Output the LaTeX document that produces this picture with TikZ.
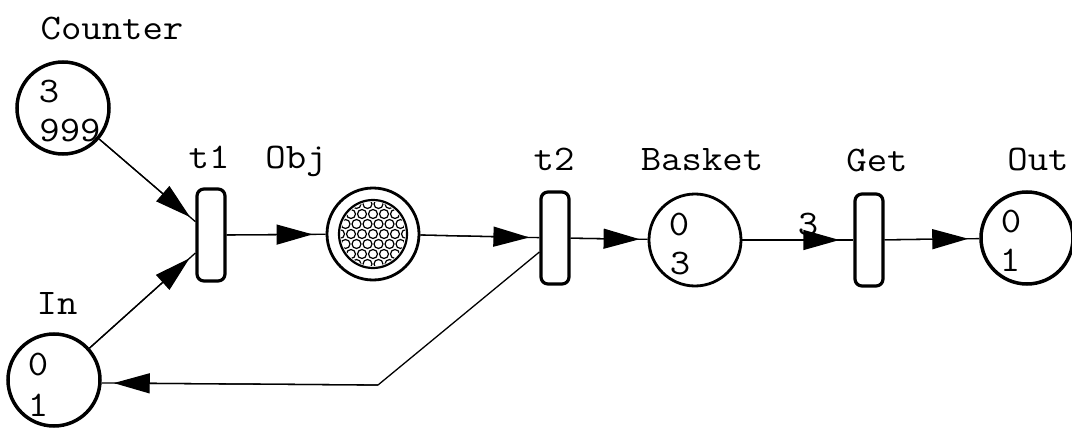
\documentclass[tikz,border=0pt]{standalone}
\usepackage{fontspec}
\setmonofont[FakeStretch=1.1]{Latin Modern Mono}
\usetikzlibrary{arrows.meta,calc}
\begin{document}
\begin{tikzpicture}[x=1pt,y=-1pt,
  every node/.style={font=\ttfamily\fontsize{36}{36}\selectfont, inner sep=0pt},
  place/.style={draw, circle, minimum size=92pt, line width=2.8pt},
  placeb/.style={place, line width=3.5pt},
  trans/.style={draw, rounded corners=7pt, minimum width=28pt, minimum height=92pt, line width=3.2pt},
  arc/.style={line width=1.3pt},
  tip/.style={-{Triangle[length=36pt,width=20pt]}, line width=1.3pt},
  lbl/.style={anchor=base},
]
\useasboundingbox (0,0) rectangle (1072,428);

% places and transitions
\node[placeb] (counter) at (63,108) {};
\node[trans] (t1) at (211,235) {};
\node[place] (obj) at (373,234) {};
\node[trans] (t2) at (555,238) {};
\node[place] (basket) at (695,240) {};
\node[trans] (get) at (869,240) {};
\node[placeb] (out) at (1027,238) {};
\node[placeb] (in) at (54,380) {};

% Obj tokens
\draw[line width=2.2pt] (obj.center) circle (34);
\begin{scope}
  \clip (obj.center) circle (32);
  \foreach \j in {-2,0,2} {
    \foreach \i in {-3,...,3} {
      \draw[line width=1.2pt] ($(obj.center)+(\i*11,\j*10)$) circle (4.5);
    }
  }
  \foreach \j in {-3,-1,1,3} {
    \foreach \i in {-3,...,3} {
      \draw[line width=1.2pt] ($(obj.center)+(\i*11+5.5,\j*10)$) circle (4.5);
    }
  }
\end{scope}

% labels
\node[lbl] (lcounter) at (112,40) {Counter};
\node[lbl] (lt1) at (209,168) {t1};
\node[lbl] (lobj) at (296,168) {Obj};
\node[lbl] (lt2) at (554,170) {t2};
\node[lbl] (lbasket) at (702,170) {Basket};
\node[lbl] (lget) at (877,171) {Get};
\node[lbl] (lout) at (1038,170) {Out};
\node[lbl] (lin) at (57,314) {In};

% tokens inside places
\node (c3) at (49,92) {3};
\node (c999) at (70,131) {999};
\node (b0) at (679,225) {0};
\node (b3) at (680,264) {3};
\node (o0) at (1011,222) {0};
\node (o1) at (1010,260) {1};
\node (i0) at (38,365) {0};
\node (i1) at (38,405) {1};
\node (w3) at (808,225) {3};

% connectors
\coordinate (bend) at (378,385);
\draw[arc] (counter) -- (t1);
\draw[tip, shorten >=7pt] (counter) -- (t1);
\draw[arc] (in) -- ([yshift=-18pt]t1.west);
\draw[tip, shorten >=8pt] (in) -- ([yshift=-18pt]t1.west);
\draw[arc] (t1) -- (obj);
\draw[tip, shorten >=13pt] (t1) -- (obj);
\draw[arc] (obj) -- (t2);
\draw[tip, shorten >=10pt] (obj) -- (t2);
\draw[arc] (t2) -- (basket);
\draw[tip, shorten >=8pt] (t2) -- (basket);
\draw[arc] (basket) -- (get);
\draw[tip, shorten >=14pt] (basket) -- (get);
\draw[arc] (get) -- (out);
\draw[tip, shorten >=11pt] (get) -- (out);
\draw[arc] ([yshift=-14pt]t2.west) -- (bend) -- ([yshift=-3pt]in.east);
\draw[tip, shorten >=12pt] (bend) -- ([yshift=-3pt]in.east);
\end{tikzpicture}
\end{document}
